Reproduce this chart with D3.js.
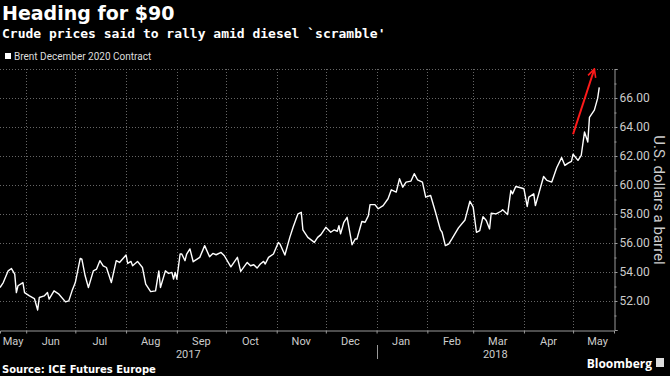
<!DOCTYPE html>
<html>
<head>
<meta charset="utf-8">
<script src="https://cdn.jsdelivr.net/npm/d3@7"></script>
<style>
  body { margin: 0; background: #000; }
  svg { display: block; background: #000; }
</style>
</head>
<body>
<div id="chart"></div>
<script>
// Brent December 2020 contract
const dates = [
  "2017-05-16","2017-05-18","2017-05-21","2017-05-23","2017-05-25","2017-05-26","2017-05-27","2017-05-30","2017-05-31",
  "2017-06-03","2017-06-06","2017-06-08","2017-06-09","2017-06-12","2017-06-14","2017-06-15","2017-06-18","2017-06-21",
  "2017-06-25","2017-06-27","2017-06-29","2017-07-01","2017-07-04","2017-07-05","2017-07-07","2017-07-09","2017-07-12",
  "2017-07-14","2017-07-16","2017-07-18","2017-07-20","2017-07-23","2017-07-26","2017-07-28","2017-08-01","2017-08-02",
  "2017-08-04","2017-08-05","2017-08-08","2017-08-11","2017-08-13","2017-08-16","2017-08-19","2017-08-21","2017-08-22",
  "2017-08-25","2017-08-27","2017-08-29","2017-08-30","2017-08-31","2017-09-01","2017-09-03","2017-09-04","2017-09-06",
  "2017-09-07","2017-09-09","2017-09-11","2017-09-15","2017-09-18","2017-09-21","2017-09-23","2017-09-25","2017-09-28",
  "2017-09-30","2017-10-04","2017-10-08","2017-10-10","2017-10-14","2017-10-16","2017-10-18","2017-10-20","2017-10-22",
  "2017-10-24","2017-10-25","2017-10-27","2017-10-30","2017-11-02","2017-11-03","2017-11-06","2017-11-09","2017-11-11",
  "2017-11-14","2017-11-16","2017-11-17","2017-11-20","2017-11-24","2017-11-26","2017-11-28","2017-12-01","2017-12-04",
  "2017-12-06","2017-12-08","2017-12-09","2017-12-10","2017-12-12","2017-12-14","2017-12-17","2017-12-19","2017-12-20",
  "2017-12-23","2017-12-25","2017-12-27","2017-12-28","2017-12-31","2018-01-02","2018-01-05","2018-01-08","2018-01-10",
  "2018-01-13","2018-01-15","2018-01-17","2018-01-19","2018-01-22","2018-01-24","2018-01-26","2018-01-29","2018-01-31",
  "2018-02-03","2018-02-06","2018-02-09","2018-02-10","2018-02-12","2018-02-14","2018-02-16","2018-02-20","2018-02-24",
  "2018-02-27","2018-03-01","2018-03-03","2018-03-05","2018-03-07","2018-03-09","2018-03-11","2018-03-12","2018-03-15",
  "2018-03-18","2018-03-19","2018-03-22","2018-03-24","2018-03-25","2018-03-27","2018-03-30","2018-04-01","2018-04-03",
  "2018-04-04","2018-04-07","2018-04-08","2018-04-13","2018-04-15","2018-04-18","2018-04-21","2018-04-24","2018-04-26",
  "2018-04-28","2018-04-30","2018-05-01","2018-05-04","2018-05-06","2018-05-08","2018-05-10","2018-05-11","2018-05-14",
  "2018-05-16","2018-05-17"
];
const prices = [
  52.93,53.27,54.08,54.24,53.86,52.58,53.05,53.27,52.58,
  52.35,52.17,51.38,52.24,52.35,52.58,52.13,52.70,52.47,
  51.94,52.01,52.70,53.27,54.94,54.89,53.74,52.93,54.08,
  54.20,54.78,54.43,54.31,53.27,54.78,54.66,55.17,54.59,
  54.73,54.43,54.73,54.31,53.16,52.65,52.70,54.08,52.93,
  54.08,53.90,53.97,53.51,53.97,53.51,55.24,55.24,54.78,
  55.24,55.59,54.71,55.01,55.82,55.05,55.28,55.19,55.35,
  55.12,54.36,55.01,54.04,54.66,54.43,54.50,54.27,54.55,
  54.73,54.55,55.01,55.24,56.04,55.93,55.17,56.39,57.08,
  58.01,58.12,56.90,56.39,56.04,56.39,56.58,57.08,56.74,
  56.90,56.81,57.20,56.63,57.43,57.77,55.88,56.28,56.28,
  57.48,57.43,57.89,58.65,58.65,58.36,58.58,59.05,59.67,
  59.51,60.43,59.85,60.20,60.27,60.78,60.36,60.20,59.16,
  59.28,58.12,56.90,56.74,55.82,55.93,56.28,57.04,57.59,
  58.88,58.47,56.74,56.85,57.82,57.55,56.97,58.05,58.01,
  58.19,58.29,57.96,59.62,59.39,59.90,59.81,59.74,58.52,
  59.16,59.39,58.58,60.59,60.32,60.20,61.19,61.89,61.35,
  61.51,61.63,62.12,61.70,62.05,63.66,62.97,64.66,65.16,
  65.97,66.73
];
const yTicks = [52, 54, 56, 58, 60, 62, 64, 66];
const months = ["May","Jun","Jul","Aug","Sep","Oct","Nov","Dec","Jan","Feb","Mar","Apr","May"];
const monthStarts = ["2017-05-01","2017-06-01","2017-07-01","2017-08-01","2017-09-01","2017-10-01","2017-11-01",
  "2017-12-01","2018-01-01","2018-02-01","2018-03-01","2018-04-01","2018-05-01"];
const years = ["2017", "2018"];
const arrowFrom = ["2018-05-01", 63.5];
const arrowTo = ["2018-05-14", 68.0];

const width = 670, height = 376;
const parse = d3.timeParse("%Y-%m-%d");
const data = dates.map((d, i) => ({ date: parse(d), value: prices[i] }));

const plot = { left: 0, right: 614, top: 69, bottom: 330 };

const x = d3.scaleTime()
  .domain([parse("2017-05-16"), parse("2018-05-26")])
  .range([plot.left, plot.right]);
const y = d3.scaleLinear()
  .domain([50, 68])
  .range([plot.bottom, plot.top]);

const svg = d3.select("#chart").append("svg")
  .attr("width", width)
  .attr("height", height);

// titles
svg.append("text")
  .attr("x", 2).attr("y", 20)
  .attr("fill", "#fff")
  .style("font", "bold 19px 'DejaVu Sans'")
  .text("Heading for $90");
svg.append("text")
  .attr("x", 2).attr("y", 38)
  .attr("fill", "#fff")
  .style("font", "bold 13px 'DejaVu Sans Mono'")
  .text("Crude prices said to rally amid diesel `scramble'");

// legend
svg.append("rect")
  .attr("x", 5).attr("y", 53).attr("width", 6).attr("height", 6)
  .attr("fill", "#fff");
svg.append("text")
  .attr("x", 14).attr("y", 60)
  .attr("fill", "#ddd")
  .style("font", "10px Roboto")
  .text("Brent December 2020 Contract");

// grid
const grid = svg.append("g")
  .attr("stroke", "#666")
  .attr("stroke-width", 1)
  .attr("stroke-dasharray", "1,2");
grid.selectAll(".h")
  .data(yTicks.concat([68]))
  .enter().append("line")
  .attr("x1", plot.left).attr("x2", plot.right)
  .attr("y1", d => Math.round(y(d)) + 0.5)
  .attr("y2", d => Math.round(y(d)) + 0.5);
grid.selectAll(".v")
  .data(monthStarts.slice(1).map(parse))
  .enter().append("line")
  .attr("x1", d => Math.round(x(d)) + 0.5)
  .attr("x2", d => Math.round(x(d)) + 0.5)
  .attr("y1", plot.top).attr("y2", plot.bottom);

// right axis
const yAxis = d3.axisRight(y)
  .tickValues(d3.range(50, 69, 2))
  .tickSize(3)
  .tickPadding(2)
  .tickFormat(d => yTicks.includes(d) ? d3.format(".2f")(d) : "");
const ya = svg.append("g")
  .attr("transform", `translate(${plot.right + 0.5},0)`)
  .call(yAxis);
ya.select(".domain").attr("stroke", "#999");
ya.selectAll(".tick line").attr("stroke", "#999");
ya.selectAll("text")
  .attr("fill", "#ccc")
  .style("font", "12px Roboto");
svg.append("g")
  .attr("transform", `translate(${plot.right + 0.5},0)`)
  .call(d3.axisRight(y).tickValues(d3.range(51, 68, 2)).tickSize(2).tickFormat(""))
  .call(g => g.select(".domain").remove())
  .selectAll("line").attr("stroke", "#999");

svg.append("text")
  .attr("transform", `translate(654,200) rotate(90)`)
  .attr("text-anchor", "middle")
  .attr("fill", "#ccc")
  .style("font", "15px Roboto")
  .text("U.S. dollars a barrel");

// bottom axis
const xAxis = d3.axisBottom(x)
  .tickValues(monthStarts.slice(1).map(parse))
  .tickSize(3)
  .tickFormat("");
const xa = svg.append("g")
  .attr("transform", `translate(0,${plot.bottom + 0.5})`)
  .call(xAxis);
xa.select(".domain").attr("stroke", "#999");
xa.selectAll(".tick line").attr("stroke", "#999");

svg.selectAll(".month")
  .data(months)
  .enter().append("text")
  .attr("x", (d, i) => {
    const s = parse(monthStarts[i]);
    const mid = x(d3.timeDay.offset(s, 15));
    return Math.max(13, mid);
  })
  .attr("y", 345)
  .attr("text-anchor", "middle")
  .attr("fill", "#ccc")
  .style("font", "11px Roboto")
  .text(d => d);

const yearEdges = [x.range()[0], x(parse("2018-01-01")), x.range()[1]];
svg.selectAll(".year")
  .data(years)
  .enter().append("text")
  .attr("x", (d, i) => (yearEdges[i] + yearEdges[i + 1]) / 2)
  .attr("y", 358)
  .attr("text-anchor", "middle")
  .attr("fill", "#ccc")
  .style("font", "11px Roboto")
  .text(d => d);
svg.append("line")
  .attr("x1", Math.round(yearEdges[1]) + 0.5).attr("x2", Math.round(yearEdges[1]) + 0.5)
  .attr("y1", 345).attr("y2", 359)
  .attr("stroke", "#999");

// price line
const line = d3.line()
  .x(d => x(d.date))
  .y(d => y(d.value));
svg.append("path")
  .datum(data)
  .attr("fill", "none")
  .attr("stroke", "#fff")
  .attr("stroke-width", 1.4)
  .attr("stroke-linejoin", "round")
  .attr("d", line);

// red arrow
svg.append("defs").append("marker")
  .attr("id", "head")
  .attr("viewBox", "0 0 10 10")
  .attr("refX", 9).attr("refY", 5)
  .attr("markerWidth", 5).attr("markerHeight", 5)
  .attr("orient", "auto")
  .append("path")
  .attr("d", "M1,1 L9,5 L1,9")
  .attr("fill", "none")
  .attr("stroke", "#ff1a1a")
  .attr("stroke-width", 1.6);
svg.append("line")
  .attr("x1", x(parse(arrowFrom[0]))).attr("y1", y(arrowFrom[1]))
  .attr("x2", x(parse(arrowTo[0]))).attr("y2", y(arrowTo[1]))
  .attr("stroke", "#ff1a1a")
  .attr("stroke-width", 2)
  .attr("marker-end", "url(#head)");

// footer
svg.append("text")
  .attr("x", 2).attr("y", 373)
  .attr("fill", "#fff")
  .style("font", "bold 10px 'DejaVu Sans'")
  .text("Source: ICE Futures Europe");
svg.append("text")
  .attr("x", 652).attr("y", 368)
  .attr("text-anchor", "end")
  .attr("fill", "#fff")
  .style("font", "bold 12px 'Open Sans'")
  .text("Bloomberg");
svg.append("rect")
  .attr("x", 656).attr("y", 358).attr("width", 8).attr("height", 9)
  .attr("fill", "#ddd");
</script>
</body>
</html>
